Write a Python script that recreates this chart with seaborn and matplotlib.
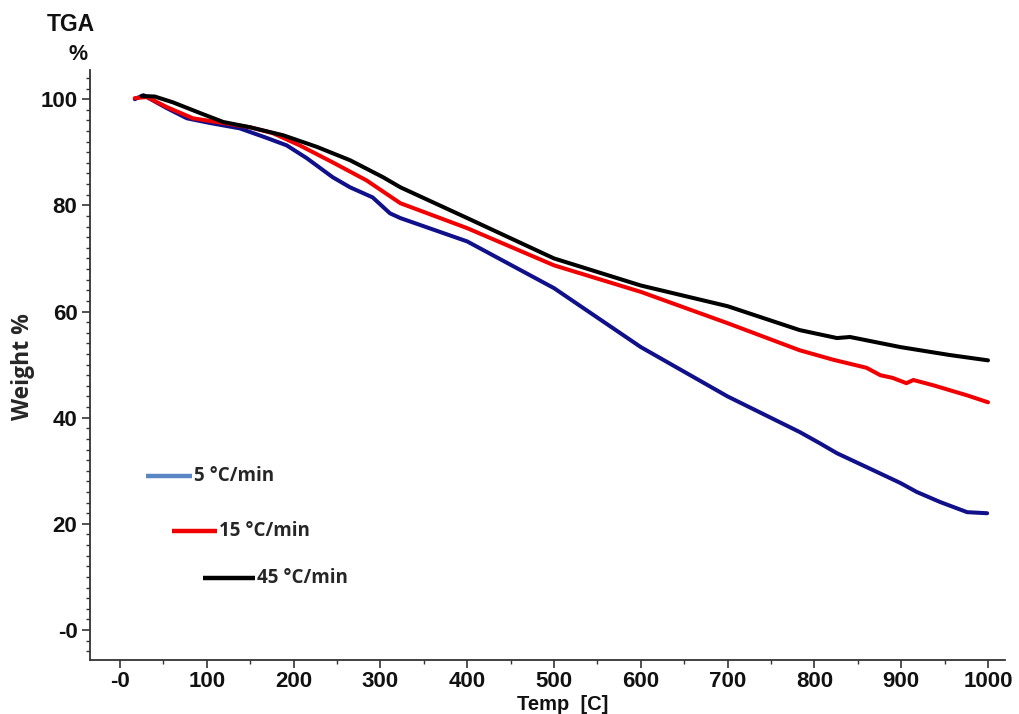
import matplotlib
matplotlib.use("Agg")
import matplotlib.pyplot as plt
import seaborn as sns
import pandas as pd
from matplotlib.ticker import MultipleLocator, FixedLocator

# ---- data ----
t_5 = [17, 27, 54, 77, 104, 138, 169, 192, 215, 245, 265, 291, 311, 323, 400, 500, 600, 700,
       783, 806, 826, 860, 899, 918, 945, 976, 999]
w_5 = [100.0, 100.75, 98.3, 96.4, 95.5, 94.5, 92.7, 91.3, 88.9, 85.3, 83.4, 81.5, 78.5, 77.6,
       73.2, 64.4, 53.3, 44.0, 37.3, 35.2, 33.3, 30.7, 27.7, 26.0, 24.1, 22.2, 22.0]

t_15 = [17, 31, 54, 84, 119, 150, 176, 207, 245, 284, 323, 400, 500, 600, 700, 783, 822, 860,
        876, 890, 906, 914, 937, 976, 1000]
w_15 = [100.2, 100.4, 98.5, 96.4, 95.5, 94.7, 93.6, 91.3, 88.1, 84.7, 80.4, 75.7, 68.7, 63.7,
        57.8, 52.7, 50.9, 49.4, 48.0, 47.5, 46.5, 47.1, 46.1, 44.2, 42.9]

t_45 = [25, 40, 61, 92, 119, 150, 188, 227, 265, 303, 323, 400, 500, 600, 700, 783, 826, 841,
        899, 956, 1000]
w_45 = [100.6, 100.5, 99.4, 97.4, 95.7, 94.7, 93.2, 91.0, 88.5, 85.3, 83.4, 77.6, 70.0, 64.9,
        61.0, 56.5, 55.0, 55.2, 53.3, 51.8, 50.8]

series_names = ["5 °C/min", "15 °C/min", "45 °C/min"]
x_ticks = [0, 100, 200, 300, 400, 500, 600, 700, 800, 900, 1000]
x_tick_labels = ["-0", "100", "200", "300", "400", "500", "600", "700", "800", "900", "1000"]
y_ticks = [0, 20, 40, 60, 80, 100]
y_tick_labels = ["-0", "20", "40", "60", "80", "100"]

line_colors = {"5 °C/min": "#10108a", "15 °C/min": "#f00000", "45 °C/min": "#000000"}
legend_colors = {"5 °C/min": "#5b86c5", "15 °C/min": "#f00000", "45 °C/min": "#000000"}

df = pd.concat([
    pd.DataFrame({"Temp": t_5, "Weight": w_5, "Rate": series_names[0]}),
    pd.DataFrame({"Temp": t_15, "Weight": w_15, "Rate": series_names[1]}),
    pd.DataFrame({"Temp": t_45, "Weight": w_45, "Rate": series_names[2]}),
], ignore_index=True)

sns.set_style("ticks")
plt.rcParams["font.family"] = ["Liberation Sans", "DejaVu Sans"]

fig = plt.figure(figsize=(10.19, 7.14), dpi=100)
ax = fig.add_axes([0.0883, 0.0756, 0.898, 0.8264])

sns.lineplot(data=df, x="Temp", y="Weight", hue="Rate", palette=line_colors,
             hue_order=series_names, linewidth=2.9, legend=False, ax=ax, sort=False,
             estimator=None)

ax.set_xlim(-34.6, 1019.6)
ax.set_ylim(-5.65, 105.5)

ax.xaxis.set_major_locator(FixedLocator(x_ticks))
ax.set_xticklabels(x_tick_labels)
ax.xaxis.set_minor_locator(MultipleLocator(50))
ax.yaxis.set_major_locator(FixedLocator(y_ticks))
ax.set_yticklabels(y_tick_labels)
ax.yaxis.set_minor_locator(MultipleLocator(2))

ax.tick_params(axis="both", which="major", direction="out", length=6, width=1.2,
               labelsize=16, color="#333333")
ax.tick_params(axis="x", which="major", pad=2)
ax.tick_params(axis="y", which="major", pad=3)
ax.tick_params(axis="both", which="minor", direction="out", length=3, width=1.0,
               color="#333333")
for lab in ax.get_xticklabels() + ax.get_yticklabels():
    lab.set_color("#111111")
    lab.set_fontweight("bold")

sns.despine(ax=ax)
for sp in ("left", "bottom"):
    ax.spines[sp].set_linewidth(1.3)
    ax.spines[sp].set_color("#333333")

ax.set_xlabel("")
ax.set_ylabel("")

fig.text(0.0225, 0.487, "Weight %", rotation=90, ha="center", va="center",
         fontsize=16.5, fontweight="bold", family=["Open Sans", "DejaVu Sans"])
fig.text(0.552, 0.0, "Temp  [C]", ha="center", va="bottom", fontsize=14.5,
         fontweight="bold", color="#111111")
fig.text(0.0697, 0.966, "TGA", ha="center", va="center", fontsize=16.5,
         fontweight="bold", color="#111111")
fig.text(0.0765, 0.923, "%", ha="center", va="center", fontsize=15.5,
         fontweight="bold", color="#111111")

# manual legend (axes fraction coords)
legend_pos = [(0.061, 0.112, 0.312), (0.090, 0.139, 0.219), (0.123, 0.180, 0.139)]
for name, (x0, x1, yy) in zip(series_names, legend_pos):
    ax.plot([x0, x1], [yy, yy], transform=ax.transAxes, color=legend_colors[name],
            linewidth=3.2, solid_capstyle="butt")
    ax.text(x1 + 0.002, yy, name, transform=ax.transAxes, ha="left", va="center",
            fontsize=13.5, fontweight="bold", family=["Open Sans", "DejaVu Sans"])

fig.savefig("out.png", dpi=100, facecolor="white")
